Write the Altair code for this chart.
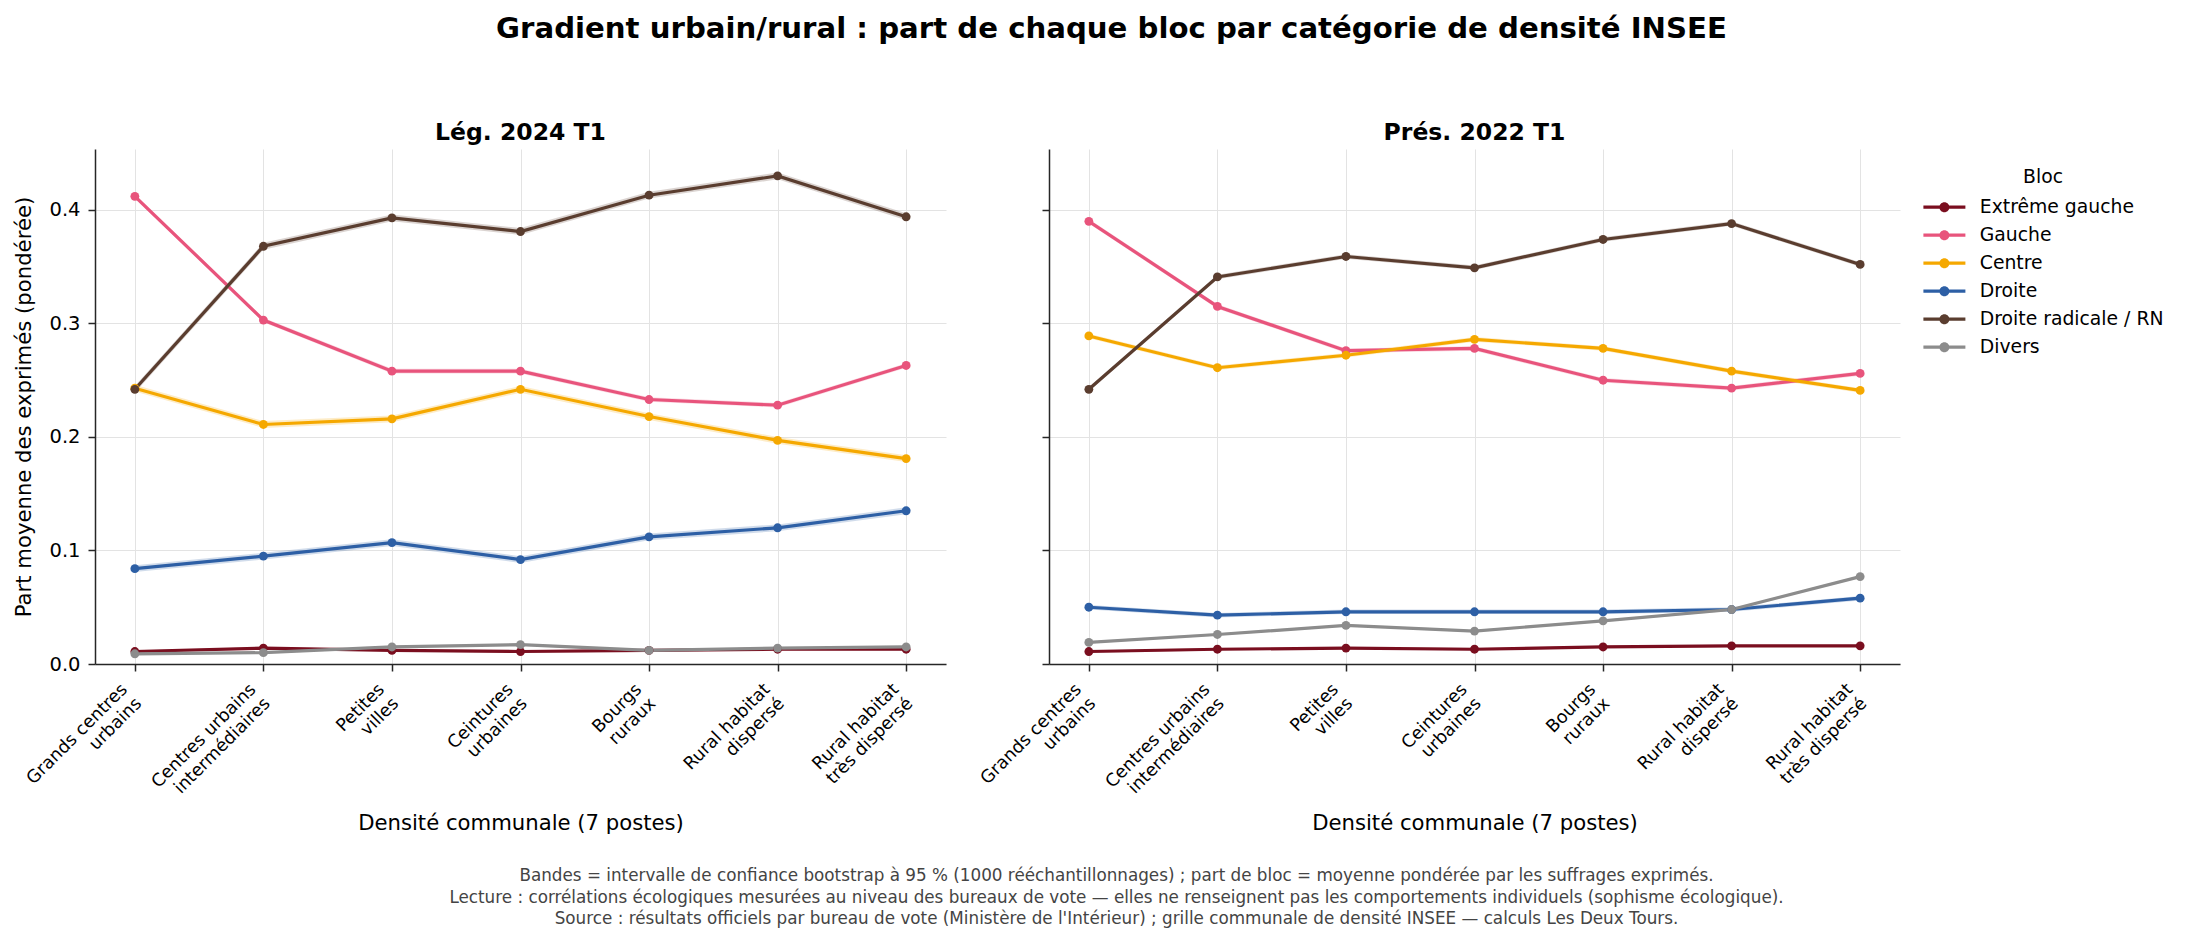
import altair as alt
import pandas as pd

categories = [
    "Grands centres\nurbains",
    "Centres urbains\nintermédiaires",
    "Petites\nvilles",
    "Ceintures\nurbaines",
    "Bourgs\nruraux",
    "Rural habitat\ndispersé",
    "Rural habitat\ntrès dispersé",
]
blocs = ["Extrême gauche", "Gauche", "Centre", "Droite", "Droite radicale / RN", "Divers"]
colors = ["#7a0e1f", "#e8547c", "#f5a800", "#2d5fa5", "#5a3d2f", "#8c8c8c"]
elections = ["Lég. 2024 T1", "Prés. 2022 T1"]

# Lég. 2024 T1
leg24_eg = [0.011, 0.014, 0.012, 0.011, 0.012, 0.013, 0.013]
leg24_gauche = [0.412, 0.303, 0.258, 0.258, 0.233, 0.228, 0.263]
leg24_centre = [0.243, 0.211, 0.216, 0.242, 0.218, 0.197, 0.181]
leg24_droite = [0.084, 0.095, 0.107, 0.092, 0.112, 0.120, 0.135]
leg24_rn = [0.242, 0.368, 0.393, 0.381, 0.413, 0.430, 0.394]
leg24_divers = [0.009, 0.010, 0.015, 0.017, 0.012, 0.014, 0.015]
leg24_hw = [0.001, 0.002, 0.003, 0.003, 0.003, 0.001]

# Prés. 2022 T1
pres22_eg = [0.011, 0.013, 0.014, 0.013, 0.015, 0.016, 0.016]
pres22_gauche = [0.390, 0.315, 0.276, 0.278, 0.250, 0.243, 0.256]
pres22_centre = [0.289, 0.261, 0.272, 0.286, 0.278, 0.258, 0.241]
pres22_droite = [0.050, 0.043, 0.046, 0.046, 0.046, 0.048, 0.058]
pres22_rn = [0.242, 0.341, 0.359, 0.349, 0.374, 0.388, 0.352]
pres22_divers = [0.019, 0.026, 0.034, 0.029, 0.038, 0.048, 0.077]
pres22_hw = [0.001, 0.002, 0.002, 0.002, 0.002, 0.001]

series = {
    elections[0]: [leg24_eg, leg24_gauche, leg24_centre, leg24_droite, leg24_rn, leg24_divers],
    elections[1]: [pres22_eg, pres22_gauche, pres22_centre, pres22_droite, pres22_rn, pres22_divers],
}
halfwidths = {elections[0]: leg24_hw, elections[1]: pres22_hw}

rows = []
for elec in elections:
    for bi, (bloc, vals) in enumerate(zip(blocs, series[elec])):
        hw = halfwidths[elec][bi]
        for ci, (cat, v) in enumerate(zip(categories, vals)):
            rows.append({"election": elec, "bloc": bloc, "border": bi, "cat": cat,
                         "value": v, "lo": v - hw, "hi": v + hw})
df = pd.DataFrame(rows)

FONT = "DejaVu Sans"
legend_path = ("M-2.625,-0.2H2.625V0.2H-2.625Z "
               "M0.625,0A0.625,0.625 0 1,1 -0.625,0A0.625,0.625 0 1,1 0.625,0Z")

LEGEND = alt.Legend(
    title="Bloc", orient="none", legendX=1827, legendY=19,
    titleFontSize=18.8, titleFontWeight="normal", titleAnchor="middle",
    titlePadding=11, labelFontSize=18.8, labelOffset=26, labelLimit=400,
    symbolType=legend_path, symbolSize=256, symbolStrokeWidth=0,
    symbolOpacity=1, symbolOffset=13,
    rowPadding=8, padding=0,
)


def panel(elec, first):
    data = df[df.election == elec]
    base = alt.Chart(data)
    xaxis = alt.Axis(
        labelExpr="split(datum.value, '\\n')",
        labelAngle=-45, labelAlign="right", labelBaseline="top",
        labelFontSize=17.6, labelLineHeight=20, labelPadding=9, labelOffset=-17,
        titleFontSize=21.2, titleFontWeight="normal", titleBaseline="middle", titleY=159,
        tickSize=7, grid=True,
    )
    x = alt.X("cat:N", sort=categories, title="Densité communale (7 postes)",
              scale=alt.Scale(type="point", padding=0.31), axis=xaxis)
    yaxis = alt.Axis(
        values=[0, 0.1, 0.2, 0.3, 0.4], format=".1f", labels=first,
        labelFontSize=19.5, tickSize=7, labelPadding=8, grid=True,
        titleFontSize=21.2, titleFontWeight="normal",
        titleX=-71, titleBaseline="middle",
    )
    ytitle = "Part moyenne des exprimés (pondérée)" if first else ""
    yscale = alt.Scale(domain=[0, 0.4537], nice=False, zero=True)
    cscale = alt.Scale(domain=blocs, range=colors)
    ykw = dict(scale=yscale, axis=yaxis, title=ytitle)
    color = alt.Color("bloc:N", scale=cscale, sort=blocs, legend=LEGEND)

    band = base.mark_area(opacity=0.22, interpolate="linear").encode(
        x=x,
        y=alt.Y("lo:Q", **ykw),
        y2="hi:Q",
        color=color,
        order=alt.Order("border:Q"),
    )
    line = base.mark_line(strokeWidth=3.2).encode(
        x=x,
        y=alt.Y("value:Q", **ykw),
        color=color,
        order=alt.Order("border:Q"),
    )
    pts = base.mark_point(filled=True, size=78, opacity=1).encode(
        x=x,
        y=alt.Y("value:Q", **ykw),
        color=color,
        order=alt.Order("border:Q"),
    )
    return alt.layer(band, line, pts).properties(
        width=851, height=515,
        title=alt.TitleParams(elec, fontSize=23.5, fontWeight="bold", offset=5, anchor="middle"),
    )


left = panel(elections[0], True)
right = panel(elections[1], False)

top = alt.hconcat(left, right, spacing=103, bounds="flush").properties(
    title=alt.TitleParams(
        "Gradient urbain/rural : part de chaque bloc par catégorie de densité INSEE",
        fontSize=29.2, fontWeight="bold", anchor="middle", dx=155, offset=76,
    )
)

footer_lines = [
    "Bandes = intervalle de confiance bootstrap à 95 % (1000 rééchantillonnages) ; part de bloc = moyenne pondérée par les suffrages exprimés.",
    "Lecture : corrélations écologiques mesurées au niveau des bureaux de vote — elles ne renseignent pas les comportements individuels (sophisme écologique).",
    "Source : résultats officiels par bureau de vote (Ministère de l'Intérieur) ; grille communale de densité INSEE — calculs Les Deux Tours.",
]

chart = alt.vconcat(top).properties(
    title=alt.TitleParams(
        footer_lines, orient="bottom", fontSize=16.8, fontWeight="normal", color="#444444",
        anchor="middle", dx=28, offset=35, lineHeight=21.5,
    ),
    padding={"left": 12, "top": 15, "right": 0, "bottom": 0},
).configure(font=FONT).configure_view(stroke=None).configure_axis(
    gridColor="#e3e3e3", gridWidth=1, domainColor="#262626", domainWidth=1.5,
    tickColor="#262626", tickWidth=1.5, labelColor="#000000", titleColor="#000000",
    labelFont=FONT, titleFont=FONT,
).configure_title(font=FONT, color="#000000").configure_legend(
    labelFont=FONT, titleFont=FONT, labelColor="#000000", titleColor="#000000",
)

chart.save("out.html", embed_options={"renderer": "svg", "actions": False})
